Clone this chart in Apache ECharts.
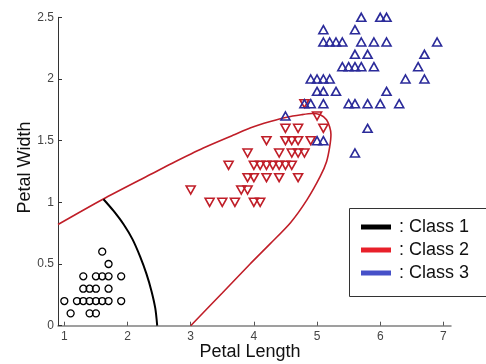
<!DOCTYPE html>
<html>
<head>
<meta charset="utf-8">
<script src="https://cdn.jsdelivr.net/npm/echarts@6/dist/echarts.min.js"></script>
<style>html,body{margin:0;padding:0;background:#fff;}#c{width:486px;height:364px;}</style>
</head>
<body>
<div id="c"></div>
<script>
// ---- data ----
const classNames = ['Class 1', 'Class 2', 'Class 3'];
const xTicks = [1, 2, 3, 4, 5, 6, 7];
const yTicks = [0, 0.5, 1, 1.5, 2, 2.5];

// Class 1 (circles): [petal length, petal width]
const class1Points = [
  [1.0,0.2],[1.1,0.1],[1.2,0.2],[1.3,0.2],[1.3,0.3],[1.3,0.4],[1.4,0.1],[1.4,0.2],
  [1.4,0.3],[1.5,0.1],[1.5,0.2],[1.5,0.3],[1.5,0.4],[1.6,0.2],[1.6,0.4],[1.6,0.6],
  [1.7,0.2],[1.7,0.3],[1.7,0.4],[1.7,0.5],[1.9,0.2],[1.9,0.4]
];
// Class 2 (down triangles)
const class2Points = [
  [3.3,1.0],[3.5,1.0],[3.7,1.0],[4.0,1.0],[4.1,1.0],
  [3.0,1.1],[3.8,1.1],[3.9,1.1],
  [3.9,1.2],[4.0,1.2],[4.2,1.2],[4.4,1.2],[4.7,1.2],
  [3.6,1.3],[4.0,1.3],[4.1,1.3],[4.2,1.3],[4.3,1.3],[4.4,1.3],[4.5,1.3],[4.6,1.3],
  [3.9,1.4],[4.4,1.4],[4.6,1.4],[4.7,1.4],[4.8,1.4],
  [4.2,1.5],[4.5,1.5],[4.6,1.5],[4.7,1.5],[4.9,1.5],
  [4.5,1.6],[4.7,1.6],[5.1,1.6],
  [5.0,1.7],[4.8,1.8]
];
// Class 3 (up triangles)
const class3Points = [
  [5.6,1.4],[5.0,1.5],[5.1,1.5],[5.8,1.6],[4.5,1.7],
  [4.8,1.8],[4.9,1.8],[5.1,1.8],[5.5,1.8],[5.6,1.8],[5.8,1.8],[6.0,1.8],[6.3,1.8],
  [5.0,1.9],[5.1,1.9],[5.3,1.9],[6.1,1.9],
  [4.9,2.0],[5.0,2.0],[5.1,2.0],[5.2,2.0],[6.4,2.0],[6.7,2.0],
  [5.4,2.1],[5.5,2.1],[5.6,2.1],[5.7,2.1],[5.9,2.1],[6.6,2.1],
  [5.6,2.2],[5.8,2.2],[6.7,2.2],
  [5.1,2.3],[5.2,2.3],[5.3,2.3],[5.4,2.3],[5.7,2.3],[5.9,2.3],[6.1,2.3],[6.9,2.3],
  [5.1,2.4],[5.6,2.4],
  [5.7,2.5],[6.0,2.5],[6.1,2.5]
];
// Decision boundaries
const boundary1 = [
  [1.62,1.025],[1.78,0.93],[1.94,0.82],[2.08,0.70],[2.20,0.56],[2.30,0.42],
  [2.38,0.28],[2.44,0.14],[2.47,0.0]
];
const boundary2 = [
  [0.9,0.82],[1.61,1.025],[2.36,1.225],[2.7,1.315],[3.2,1.44],[3.7,1.55],[3.95,1.605],
  [4.26,1.655],[4.52,1.69],[4.75,1.71],[4.92,1.72],[5.05,1.71],[5.15,1.67],[5.2,1.61],
  [5.22,1.55],[5.2,1.45],[5.15,1.33],[5.05,1.21],[4.84,1.02],[4.58,0.835],[4.26,0.665],
  [3.94,0.5],[3.5,0.265],[3.0,0.0]
];

const FONT = 'Liberation Sans, Arial, sans-serif';
const chart = echarts.init(document.getElementById('c'), null, {renderer: 'canvas'});
chart.setOption({
  animation: false,
  backgroundColor: '#fff',
  grid: {left: 58, top: 17.3, right: 35, bottom: 38.3, containLabel: false, outerBoundsMode: 'none'},
  xAxis: {
    type: 'value', min: 0.9, max: 7.12,
    name: 'Petal Length', nameLocation: 'middle', nameGap: 17, nameMoveOverlap: false,
    nameTextStyle: {fontFamily: FONT, fontSize: 18, color: '#111', padding: [0, 9, 0, 0]},
    axisLine: {show: true, onZero: false, lineStyle: {color: '#808080', width: 1.5}},
    axisTick: {show: true, inside: true, length: 4, customValues: xTicks, lineStyle: {color: '#555'}},
    axisLabel: {customValues: xTicks, margin: 5, fontFamily: FONT, fontSize: 12, color: '#444'},
    splitLine: {show: false}
  },
  yAxis: {
    type: 'value', min: 0, max: 2.5, interval: 0.5,
    name: 'Petal Width', nameLocation: 'middle', nameGap: 24, nameRotate: 90, nameMoveOverlap: false,
    nameTextStyle: {fontFamily: FONT, fontSize: 18, color: '#111', padding: [0, 0, 0, 8]},
    axisLine: {show: true, onZero: false, lineStyle: {color: '#333', width: 1}},
    axisTick: {show: true, inside: true, length: 4, lineStyle: {color: '#333'}},
    axisLabel: {margin: 4, fontFamily: FONT, fontSize: 12, color: '#444',
      formatter: v => String(v)},
    splitLine: {show: false}
  },
  legend: {
    orient: 'vertical', left: 356, top: 211, itemWidth: 30, itemHeight: 5, itemGap: 1,
    selectedMode: false, z: 10,
    formatter: name => ': ' + name,
    textStyle: {fontFamily: FONT, fontSize: 18, color: '#111', lineHeight: 22, padding: [0, 0, 0, 3]},
    data: [
      {name: classNames[0], icon: 'rect', itemStyle: {color: '#000', borderWidth: 0, opacity: 1}},
      {name: classNames[1], icon: 'rect', itemStyle: {color: '#e8202a', borderWidth: 0, opacity: 1}},
      {name: classNames[2], icon: 'rect', itemStyle: {color: '#4650c8', borderWidth: 0, opacity: 1}}
    ]
  },
  graphic: [{
    type: 'rect', z: 5,
    shape: {x: 349.5, y: 208.5, width: 140, height: 88},
    style: {fill: '#fff', stroke: '#333', lineWidth: 1}
  }],
  series: [
    {
      name: 'boundary2', type: 'line', data: boundary2, showSymbol: false, smooth: 0.25,
      lineStyle: {color: '#c01e28', width: 1.6}, z: 2, silent: true
    },
    {
      name: 'boundary1', type: 'line', data: boundary1, showSymbol: false, smooth: 0.3,
      lineStyle: {color: '#000', width: 2}, z: 2, silent: true
    },
    {
      name: classNames[0], type: 'scatter', data: class1Points, symbol: 'circle', symbolSize: 7,
      itemStyle: {color: 'rgba(0,0,0,0)', borderColor: '#000', borderWidth: 1.3, opacity: 1}, z: 3
    },
    {
      name: classNames[1], type: 'scatter', data: class2Points, symbol: 'triangle',
      symbolSize: [9, 8], symbolRotate: 180,
      itemStyle: {color: 'rgba(0,0,0,0)', borderColor: '#c01e28', borderWidth: 1.6, opacity: 1}, z: 3
    },
    {
      name: classNames[2], type: 'scatter', data: class3Points, symbol: 'triangle',
      symbolSize: [9, 8],
      itemStyle: {color: 'rgba(0,0,0,0)', borderColor: '#2b2b9a', borderWidth: 1.6, opacity: 1}, z: 3
    }
  ]
});
</script>
</body>
</html>
